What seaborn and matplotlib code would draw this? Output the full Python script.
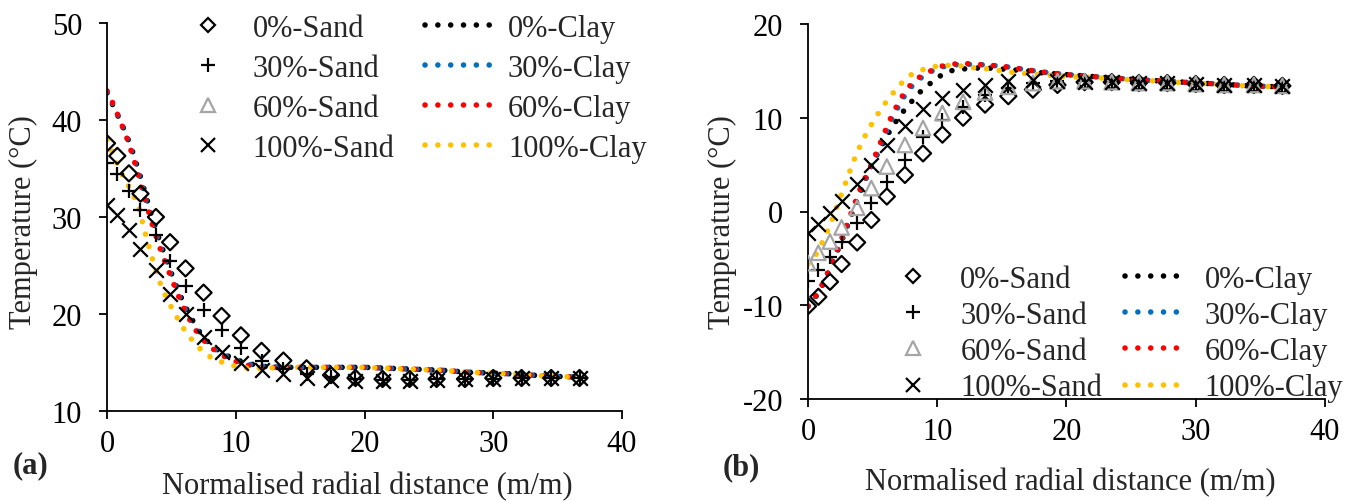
import matplotlib
matplotlib.use("Agg")
import matplotlib.pyplot as plt
import seaborn as sns
import pandas as pd
from matplotlib.lines import Line2D

# x positions of the sand markers (both panels)
sand_x = [0, 0.8, 1.7, 2.6, 3.8, 4.9, 6.1, 7.5, 8.9, 10.4, 12.0, 13.7, 15.5, 17.4, 19.3,
          21.4, 23.5, 25.6, 27.8, 30.0, 32.2, 34.5, 36.7]

# (a) sand
a_sand0 = [37.6, 36.3, 34.5, 32.4, 30.0, 27.4, 24.7, 22.2, 19.8, 17.8, 16.2, 15.2, 14.4, 13.7, 13.4,
           13.3, 13.3, 13.3, 13.3, 13.4, 13.4, 13.4, 13.4]
a_sand30 = [35.6, 34.4, 32.7, 30.7, 28.1, 25.5, 22.9, 20.4, 18.3, 16.5, 15.2, 14.3, 13.8, 13.5, 13.3,
            13.2, 13.2, 13.3, 13.3, 13.3, 13.4, 13.4, 13.4]
a_sand60 = []
a_sand100 = [31.2, 30.2, 28.7, 26.7, 24.5, 22.1, 20.0, 17.6, 16.1, 15.0, 14.2, 13.8, 13.4, 13.2, 13.1,
             13.1, 13.1, 13.2, 13.3, 13.3, 13.4, 13.4, 13.4]

# (a) clay
clay_x_a = [0, 0.5, 1, 1.5, 2, 2.5, 3, 3.5, 4, 4.5, 5, 5.5, 6, 6.5, 7, 7.5, 8, 9, 10, 11,
            12, 14, 16, 18, 20, 22, 24, 26, 28, 30, 32, 34, 36.6]
a_clay0 = [42.8, 41.4, 40.0, 38.5, 36.7, 34.6, 32.3, 30.0, 27.9, 26.0, 24.2, 22.5, 21.0, 19.7, 18.5,
           17.6, 16.9, 15.9, 15.3, 14.9, 14.6, 14.5, 14.5, 14.5, 14.5, 14.4, 14.3, 14.2, 14.0, 13.9,
           13.8, 13.6, 13.5]
a_clay30 = [42.9, 41.5, 40.0, 38.4, 36.5, 34.3, 31.9, 29.6, 27.5, 25.7, 23.9, 22.2, 20.7, 19.4, 18.3,
            17.4, 16.7, 15.8, 15.2, 14.8, 14.6, 14.5, 14.5, 14.5, 14.5, 14.4, 14.3, 14.2, 14.0, 13.9,
            13.8, 13.6, 13.5]
a_clay60 = [43.0, 41.6, 40.0, 38.3, 36.3, 34.0, 31.6, 29.3, 27.2, 25.4, 23.7, 22.0, 20.5, 19.2, 18.1,
            17.3, 16.6, 15.7, 15.1, 14.7, 14.5, 14.5, 14.5, 14.5, 14.5, 14.4, 14.3, 14.2, 14.0, 13.9,
            13.8, 13.6, 13.5]
a_clay100 = [38.0, 36.4, 34.8, 33.6, 32.4, 30.8, 28.2, 25.8, 23.6, 22.0, 20.7, 19.5, 18.4, 17.5, 16.7,
             16.1, 15.6, 15.0, 14.6, 14.4, 14.4, 14.5, 14.5, 14.5, 14.5, 14.4, 14.3, 14.2, 14.0, 13.9,
             13.8, 13.6, 13.5]

# (b) sand
b_sand0 = [-10.1, -9.1, -7.5, -5.6, -3.3, -0.9, 1.6, 3.9, 6.2, 8.2, 10.0, 11.4, 12.3, 13.0, 13.5,
           13.8, 13.8, 13.7, 13.7, 13.6, 13.5, 13.5, 13.4]
b_sand30 = [-7.4, -6.2, -4.8, -3.2, -1.2, 0.9, 3.2, 5.5, 8.0, 9.8, 11.2, 12.4, 13.2, 13.7, 13.9,
            13.9, 13.8, 13.7, 13.7, 13.6, 13.5, 13.5, 13.4]
b_sand60 = [-5.5, -4.4, -3.2, -1.7, 0.4, 2.5, 4.8, 7.1, 8.9, 10.5, 11.7, 12.7, 13.3, 13.7, 13.9,
            13.9, 13.8, 13.7, 13.7, 13.6, 13.5, 13.5, 13.4]
b_sand100 = [-2.3, -1.3, -0.2, 1.1, 2.9, 5.0, 7.1, 9.1, 10.9, 12.1, 13.0, 13.5, 13.9, 14.0, 13.9,
             13.8, 13.8, 13.7, 13.7, 13.6, 13.5, 13.5, 13.4]

# (b) clay
clay_x_b = [0, 0.5, 1, 1.5, 2, 2.5, 3, 3.5, 4, 4.5, 5, 5.5, 6, 6.5, 7, 7.5, 8, 8.5, 9, 9.5,
            10, 11, 12, 13, 14, 15, 16, 17, 18, 20, 22, 24, 26, 28, 30, 32, 34, 36.6]
b_clay0 = [-10.1, -9.3, -8.2, -6.8, -5.1, -3.5, -1.7, 0.1, 1.9, 3.6, 5.1, 6.5, 7.8, 9.0, 10.0,
           10.9, 11.7, 12.5, 13.2, 13.7, 14.3, 15.0, 15.2, 15.3, 15.3, 15.2, 15.1, 15.0, 14.8, 14.6,
           14.4, 14.2, 14.0, 13.9, 13.7, 13.6, 13.4, 13.3]
b_clay30 = [-10.1, -9.2, -8.1, -6.7, -4.9, -3.4, -1.6, 0.2, 2.1, 3.6, 5.1, 6.7, 8.3, 9.9, 11.2,
            12.4, 13.3, 14.0, 14.5, 14.9, 15.3, 15.6, 15.7, 15.7, 15.6, 15.5, 15.3, 15.1, 14.9, 14.6,
            14.4, 14.2, 14.0, 13.9, 13.7, 13.6, 13.4, 13.3]
b_clay60 = [-10.1, -9.2, -8.1, -6.6, -4.8, -3.3, -1.4, 0.4, 2.3, 3.8, 5.3, 7.0, 8.7, 10.3, 11.6,
            12.8, 13.6, 14.2, 14.7, 15.0, 15.4, 15.7, 15.8, 15.7, 15.6, 15.5, 15.3, 15.1, 14.9, 14.6,
            14.4, 14.2, 14.0, 13.9, 13.7, 13.6, 13.4, 13.3]
b_clay100 = [-5.6, -4.9, -3.6, -2.1, -0.4, 1.5, 3.4, 5.3, 6.9, 8.3, 9.5, 10.6, 11.6, 12.5, 13.3,
             14.1, 14.6, 14.9, 15.2, 15.4, 15.5, 15.6, 15.5, 15.3, 15.2, 15.0, 14.8, 14.7, 14.6, 14.4,
             14.3, 14.1, 14.0, 13.8, 13.7, 13.5, 13.4, 13.3]

sand_labels = ["0%-Sand", "30%-Sand", "60%-Sand", "100%-Sand"]
clay_labels = ["0%-Clay", "30%-Clay", "60%-Clay", "100%-Clay"]
clay_colors = ["black", "#0070C0", "#FF0000", "#FFC000"]
# marker, size(pt), colour
sand_style = [("D", 8.2, "black"), ("+", 10.5, "black"), ("^", 10.5, "#A5A5A5"), ("x", 10.5, "black")]

sns.set_style("ticks")
plt.rcParams["font.family"] = ["Liberation Serif", "DejaVu Serif"]
plt.rcParams["axes.unicode_minus"] = False
FS = 22
dots = (0, (0.01, 2.3))

fig = plt.figure(figsize=(13.62, 5.02), dpi=100)
ax_a = fig.add_axes([107 / 1362, 90 / 502, 515 / 1362, 388 / 502])
ax_b = fig.add_axes([808 / 1362, 102 / 502, 517 / 1362, 375 / 502])


def draw(ax, sand, clay_x, clay):
    for ys, col in zip(clay, clay_colors):
        df = pd.DataFrame({"x": clay_x, "y": ys})
        sns.lineplot(data=df, x="x", y="y", ax=ax, color=col, lw=4, linestyle=dots,
                     dash_capstyle="round", sort=False, estimator=None)
    for ys, (m, ms, col) in zip(sand, sand_style):
        if not ys:
            continue
        df = pd.DataFrame({"x": sand_x, "y": ys})
        if m == "D" or m == "^":
            sns.scatterplot(data=df, x="x", y="y", ax=ax, marker=m, s=ms ** 2,
                            facecolors="none", edgecolor=col, linewidth=1.6, zorder=5)
        else:
            sns.scatterplot(data=df, x="x", y="y", ax=ax, marker=m, s=ms ** 2,
                            color=col, linewidth=1.6, zorder=5)


draw(ax_a, [a_sand0, a_sand30, a_sand60, a_sand100], clay_x_a,
     [a_clay0, a_clay30, a_clay60, a_clay100])
draw(ax_b, [b_sand0, b_sand30, b_sand60, b_sand100], clay_x_b,
     [b_clay0, b_clay30, b_clay60, b_clay100])

ax_a.set_xlim(0, 40)
ax_a.set_ylim(10, 50)
ax_a.set_yticks([10, 20, 30, 40, 50])
ax_b.set_xlim(0, 40)
ax_b.set_ylim(-20, 20)
ax_b.set_yticks([-20, -10, 0, 10, 20])

for ax in (ax_a, ax_b):
    ax.set_xticks([0, 10, 20, 30, 40])
    sns.despine(ax=ax)
    for s in ("left", "bottom"):
        ax.spines[s].set_linewidth(1.3)
        ax.spines[s].set_color("black")
    ax.tick_params(axis="both", direction="out", length=6, width=1.3, colors="black",
                   labelsize=FS)
    ax.tick_params(axis="y", pad=12)
    ax.tick_params(axis="x", pad=7)
    ax.set_xlabel("Normalised radial distance (m/m)", fontsize=FS)
    ax.set_ylabel("Temperature (°C)", fontsize=FS)

ax_a.xaxis.set_label_coords(0.505, -0.155)
ax_a.yaxis.set_label_coords(-0.134, 0.49)
ax_b.xaxis.set_label_coords(0.507, -0.18)
ax_b.yaxis.set_label_coords(-0.137, 0.475)

# legend handles
handles = []
for m, ms, col in sand_style:
    if m in ("D", "^"):
        handles.append(Line2D([], [], ls="", marker=m, ms=ms * 0.9, mfc="none", mec=col, mew=1.6))
    else:
        handles.append(Line2D([], [], ls="", marker=m, ms=ms * 0.95, color=col, mew=1.6))
for col in clay_colors:
    handles.append(Line2D([], [], color=col, lw=4, ls=dots, dash_capstyle="round"))
labels = sand_labels + clay_labels

ax_a.legend(handles, labels, ncol=2, loc="upper left", bbox_to_anchor=(0.121, 1.024),
            frameon=False, fontsize=FS, borderpad=0, borderaxespad=0, handlelength=2.5,
            handletextpad=0.22, columnspacing=1.0, labelspacing=0.36)
ax_b.legend(handles, labels, ncol=2, loc="upper left", bbox_to_anchor=(0.141, 0.357),
            frameon=False, fontsize=FS, borderpad=0, borderaxespad=0, handlelength=2.1,
            handletextpad=0.5, columnspacing=0.75, labelspacing=0.23)

fig.text(31 / 1362, 1 - 466 / 502, "(a)", fontsize=FS, fontweight="bold", ha="center", va="center")
fig.text(741 / 1362, 1 - 468 / 502, "(b)", fontsize=FS, fontweight="bold", ha="center", va="center")

fig.savefig("out.png", dpi=100)
